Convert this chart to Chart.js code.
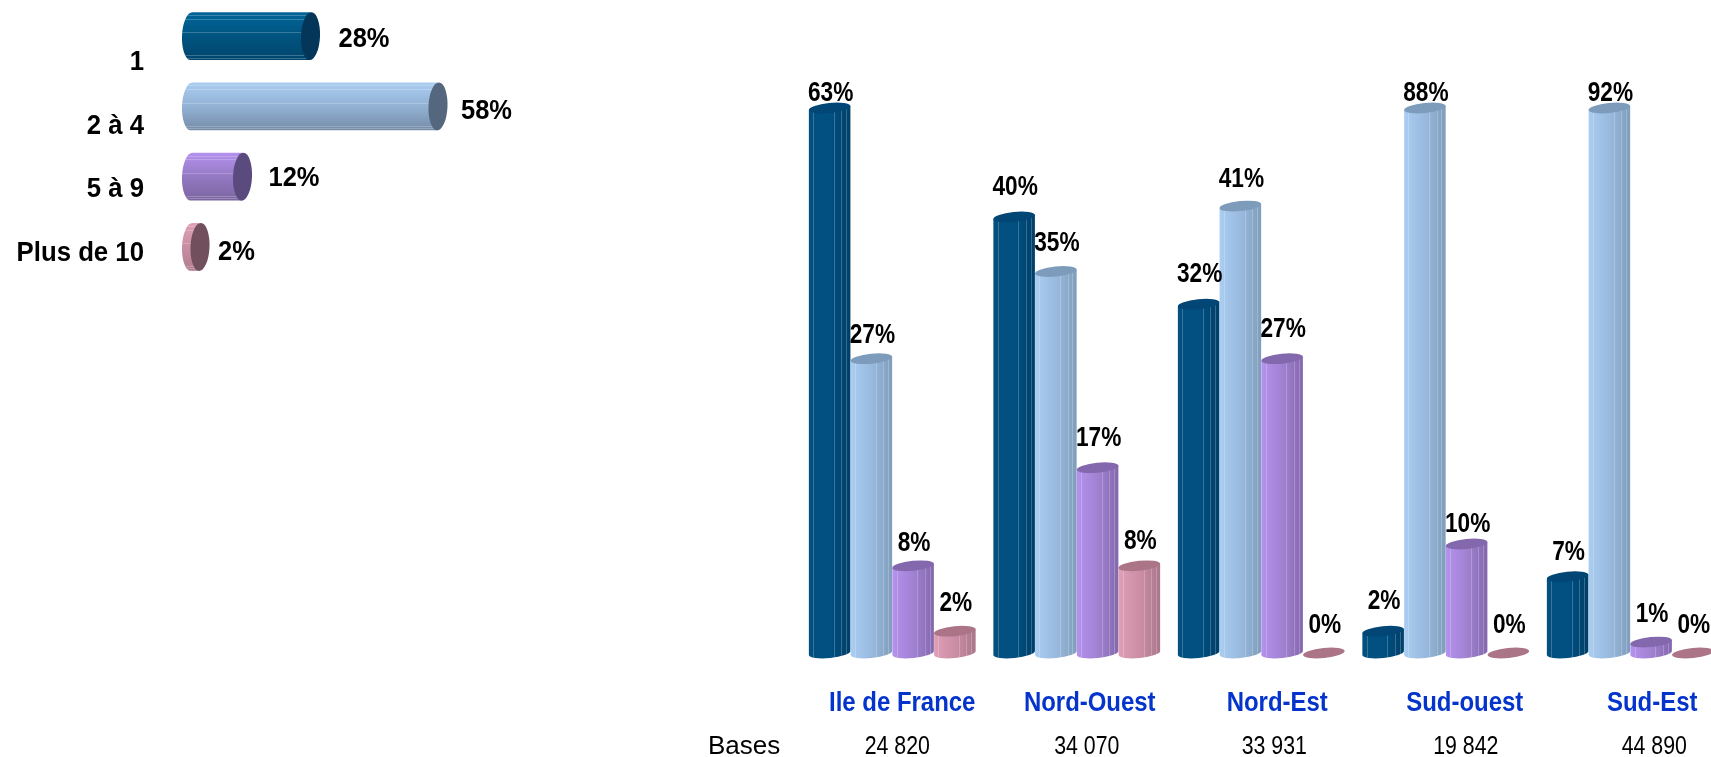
<!DOCTYPE html>
<html>
<head>
<meta charset="utf-8">
<title>Chart</title>
<script src="https://cdn.jsdelivr.net/npm/chart.js@4/dist/chart.umd.min.js"></script>
<style>
html, body { margin: 0; padding: 0; background: #fff; overflow: hidden; width: 1711px; height: 757px; }
canvas { position: absolute; top: 0; }
#rows { left: 0; }
#columns { left: 700px; }
</style>
</head>
<body>
<canvas id="rows" width="700" height="300"></canvas>
<canvas id="columns" width="1030" height="757"></canvas>
<script>
// -- data -------------------------------------------------------------------->
const sizeLabels = ['1', '2 à 4', '5 à 9', 'Plus de 10']
const overallValues = [28, 58, 12, 2]

const regions = ['Ile de France', 'Nord-Ouest', 'Nord-Est', 'Sud-ouest', 'Sud-Est']
const bases = ['24 820', '34 070', '33 931', '19 842', '44 890']
const basesTitle = 'Bases'
const series1 = [63, 40, 32, 2, 7]
const series2to4 = [27, 35, 41, 88, 92]
const series5to9 = [8, 17, 27, 10, 1]
const series10plus = [2, 8, 0, 0, 0]

// -- styles ------------------------------------------------------------------>
// light side, middle, dark side, top of the column, end of the row
const palette = [
    ['#02507f', '#004f80', '#003f68', '#014674', '#04365a'],
    ['#aacdf2', '#97b8dc', '#7f9dbb', '#7d9bbb', '#54677f'],
    ['#b592ee', '#9e80cf', '#8468ad', '#8468ad', '#5a4a7d'],
    ['#de9fb7', '#c98ca3', '#a9768a', '#ab7487', '#724f5c']
]
const rowPalette = [
    ['#00659a', '#00547f', '#00456e'],
    ['#aacdf2', '#92b2d4', '#758ca8'],
    ['#b592ee', '#9479c4', '#7b659f'],
    ['#e0a0b6', '#c98ea3', '#b07e90']
]
const facets = [0.1, 0.6, 0.78, 0.9]
const rowFacets = [0.06, 0.14, 0.42, 0.9, 0.95]
// no narrow face is installed, so the text gets squeezed sideways in text()
const boldFont = 'bold 28px "Liberation Sans", sans-serif'
const plainFont = '26px "Liberation Sans", sans-serif'

// the text in the picture does not sit exactly on the category centres
const sizeLabelShift = [26, 20, 13, 6]
const overallLabelShiftX = [5, 0, 3, -5]
const overallLabelShiftY = [3, 5, 2, 5]
const regionLabelShift = [10, 13, 16, 19, 22]
const basesLabelShift = [5, 10, 13, 20, 24]
const columnLabelShift = [
    [0, -2, -2, -2, 4],
    [5, 0, 1, 0, 0],
    [5, -1, -1, 8, 0],
    [0, 3, 0, 0, 0]
]

function text(ctx, str, x, y, font, color, align, squeeze) {
    ctx.save()
    ctx.translate(x, y)
    ctx.scale(squeeze, 1)
    ctx.font = font
    ctx.fillStyle = color
    ctx.textAlign = align
    ctx.textBaseline = 'middle'
    ctx.fillText(str, 0, 0)
    ctx.restore()
}

// -- vertical cylinders ------------------------------------------------------>
function drawColumn(ctx, bar, top, colors) {
    const tilt = 0.1
    const rx = bar.width / 2
    const ry = 5
    const y = Math.max(bar.y, top)
    const dx = rx * Math.cos(tilt)
    const dy = rx * Math.sin(tilt)
    ctx.save()
    if (bar.base - y > 0.5) {
        ctx.beginPath()
        ctx.moveTo(bar.x - dx, y + dy)
        ctx.lineTo(bar.x - dx, bar.base + dy)
        ctx.ellipse(bar.x, bar.base, rx, ry, -tilt, Math.PI, 0, true)
        ctx.lineTo(bar.x + dx, y - dy)
        ctx.closePath()
        const g = ctx.createLinearGradient(bar.x - dx, 0, bar.x + dx, 0)
        g.addColorStop(0, colors[0])
        g.addColorStop(0.55, colors[1])
        g.addColorStop(1, colors[2])
        ctx.fillStyle = g
        ctx.fill()
        ctx.clip()
        ctx.strokeStyle = 'rgba(255,255,255,0.22)'
        ctx.lineWidth = 1
        facets.forEach(f => {
            const fx = Math.round(bar.x - dx + f * 2 * dx) + 0.5
            ctx.beginPath()
            ctx.moveTo(fx, y)
            ctx.lineTo(fx, bar.base + ry)
            ctx.stroke()
        })
    }
    ctx.restore()
    ctx.beginPath()
    ctx.ellipse(bar.x, y, rx, ry, -tilt, 0, Math.PI * 2)
    ctx.fillStyle = colors[3]
    ctx.fill()
}

const columnPlugin = {
    id: 'columnPlugin',
    // later series overlap earlier ones here, chart.js would paint them the other way
    beforeDatasetsDraw(chart) {
        chart.data.datasets.forEach((dataset, i) => {
            chart.getDatasetMeta(i).data.forEach(bar => {
                drawColumn(chart.ctx, bar, chart.chartArea.top, palette[i])
            })
        })
    },
    beforeDatasetDraw() {
        return false
    },
    afterDatasetsDraw(chart) {
        const ctx = chart.ctx
        const top = chart.chartArea.top
        chart.data.datasets.forEach((dataset, i) => {
            chart.getDatasetMeta(i).data.forEach((bar, j) => {
                const y = Math.max(bar.y - 28, top - 15) + columnLabelShift[i][j]
                text(ctx, dataset.data[j] + '%', bar.x + 1, y, boldFont, '#000', 'center', 0.81)
            })
        })
        const x = chart.scales.x
        regions.forEach((name, i) => {
            text(ctx, name, x.getPixelForValue(i) + regionLabelShift[i], 703, boldFont, '#0534cc', 'center', 0.855)
            text(ctx, bases[i], x.getPixelForValue(i) + basesLabelShift[i], 747, plainFont, '#000', 'center', 0.82)
        })
        text(ctx, basesTitle, 8, 747, plainFont, '#000', 'left', 1)
    }
}

new Chart(document.getElementById('columns'), {
    type: 'bar',
    data: {
        labels: regions,
        datasets: [
            { label: sizeLabels[0], data: series1 },
            { label: sizeLabels[1], data: series2to4 },
            { label: sizeLabels[2], data: series5to9 },
            { label: sizeLabels[3], data: series10plus }
        ]
    },
    options: {
        responsive: false,
        animation: false,
        layout: { padding: { left: 100, right: 7.5, top: 108, bottom: 104 } },
        datasets: { bar: { categoryPercentage: 0.905, barPercentage: 1 } },
        plugins: { legend: { display: false }, tooltip: { enabled: false } },
        scales: {
            x: { display: false },
            // the picture cuts its tallest columns at 50%
            y: { display: false, min: 0, max: 50 }
        }
    },
    plugins: [columnPlugin]
})

// -- horizontal cylinders ---------------------------------------------------->
const rowPlugin = {
    id: 'rowPlugin',
    beforeDatasetDraw(chart, args) {
        const ctx = chart.ctx
        args.meta.data.forEach((bar, i) => {
            const colors = rowPalette[i]
            const tilt = 0.04
            const rx = 9.5
            const ry = bar.height / 2
            ctx.save()
            ctx.beginPath()
            ctx.moveTo(bar.x, bar.y - ry)
            ctx.lineTo(bar.base, bar.y - ry)
            ctx.ellipse(bar.base, bar.y, rx, ry, tilt, -Math.PI / 2, Math.PI / 2, true)
            ctx.lineTo(bar.x, bar.y + ry)
            ctx.closePath()
            const g = ctx.createLinearGradient(0, bar.y - ry, 0, bar.y + ry)
            g.addColorStop(0, colors[0])
            g.addColorStop(0.5, colors[1])
            g.addColorStop(1, colors[2])
            ctx.fillStyle = g
            ctx.fill()
            ctx.clip()
            ctx.strokeStyle = 'rgba(255,255,255,0.22)'
            ctx.lineWidth = 1
            rowFacets.forEach(f => {
                const fy = Math.round(bar.y - ry + f * 2 * ry) + 0.5
                ctx.beginPath()
                ctx.moveTo(bar.base - rx, fy)
                ctx.lineTo(bar.x, fy)
                ctx.stroke()
            })
            ctx.restore()
            ctx.beginPath()
            ctx.ellipse(bar.x, bar.y, rx, ry, tilt, 0, Math.PI * 2)
            ctx.fillStyle = palette[i][4]
            ctx.fill()
        })
        return false
    },
    afterDatasetsDraw(chart) {
        const ctx = chart.ctx
        const y = chart.scales.y
        chart.getDatasetMeta(0).data.forEach((bar, i) => {
            text(ctx, overallValues[i] + '%', bar.x + 23 + overallLabelShiftX[i], bar.y + overallLabelShiftY[i], boldFont, '#000', 'left', 0.91)
        })
        sizeLabels.forEach((name, i) => {
            text(ctx, name, 144, y.getPixelForValue(i) + sizeLabelShift[i], boldFont, '#000', 'right', 0.92)
        })
    }
}

new Chart(document.getElementById('rows'), {
    type: 'bar',
    data: {
        labels: sizeLabels,
        datasets: [{ label: 'Ensemble', data: overallValues }]
    },
    options: {
        indexAxis: 'y',
        responsive: false,
        animation: false,
        layout: { padding: { left: 191.5, right: 83.5, top: 1, bottom: 18 } },
        datasets: { bar: { categoryPercentage: 0.683, barPercentage: 1 } },
        plugins: { legend: { display: false }, tooltip: { enabled: false } },
        scales: {
            x: { display: false, min: 0, max: 100 },
            y: { display: false }
        }
    },
    plugins: [rowPlugin]
})
</script>
</body>
</html>
